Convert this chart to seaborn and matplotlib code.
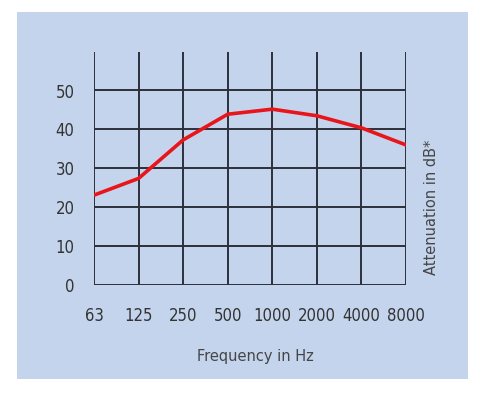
import numpy as np
import pandas as pd
import seaborn as sns
import matplotlib.pyplot as plt
from matplotlib.patches import Rectangle

# attenuation curve
freqs = ["63", "125", "250", "500", "1000", "2000", "4000", "8000"]
attenuation = [23.1, 27.4, 37.3, 43.9, 45.2, 43.5, 40.4, 36.0]
y_ticks = [0, 10, 20, 30, 40, 50]

df = pd.DataFrame({"pos": np.arange(len(freqs)), "att": attenuation})

sns.set_style("white")
plt.rcParams["font.family"] = ["DejaVu Sans"]

bg = "#c4d4ec"
grid_col = "#2b303a"
text_col = "#333333"

fig = plt.figure(figsize=(4.86, 3.93), dpi=100)
fig.patch.set_facecolor("white")
# light blue panel behind everything
fig.patches.append(Rectangle((17 / 486, 1 - 379 / 393), 451 / 486, 367 / 393,
                             transform=fig.transFigure, facecolor=bg,
                             edgecolor="none", zorder=-1))

ax = fig.add_axes([94 / 486, 1 - 285 / 393, 312 / 486, 233.4 / 393])
ax.set_zorder(1)
ax.set_facecolor("none")

sns.lineplot(data=df, x="pos", y="att", color="#e8151b", lw=2.6, ax=ax, zorder=5)

ax.set_xlim(0, 7)
ax.set_ylim(0, 60)
ax.set_xticks(df["pos"])
ax.set_xticklabels(freqs)
ax.set_yticks(y_ticks)
ax.grid(True, color=grid_col, lw=1.4)
ax.set_axisbelow(True)
for s in ax.spines.values():
    s.set_visible(False)
ax.tick_params(length=0, colors=text_col, labelsize=12)
ax.tick_params(axis="x", pad=16)
ax.tick_params(axis="y", pad=14)
for lab in ax.get_xticklabels() + ax.get_yticklabels():
    lab.set_fontstretch("condensed")
ax.set_xlabel("")
ax.set_ylabel("")

fig.text(255 / 486, 1 - 356 / 393, "Frequency in Hz", ha="center", va="center",
         fontsize=10.5, color="#454545", zorder=2)
fig.text(431 / 486, 1 - 207 / 393, "Attenuation in dB*", ha="center", va="center",
         rotation=90, fontsize=10.5, color="#454545", zorder=2)

fig.savefig("out.png", dpi=100)
